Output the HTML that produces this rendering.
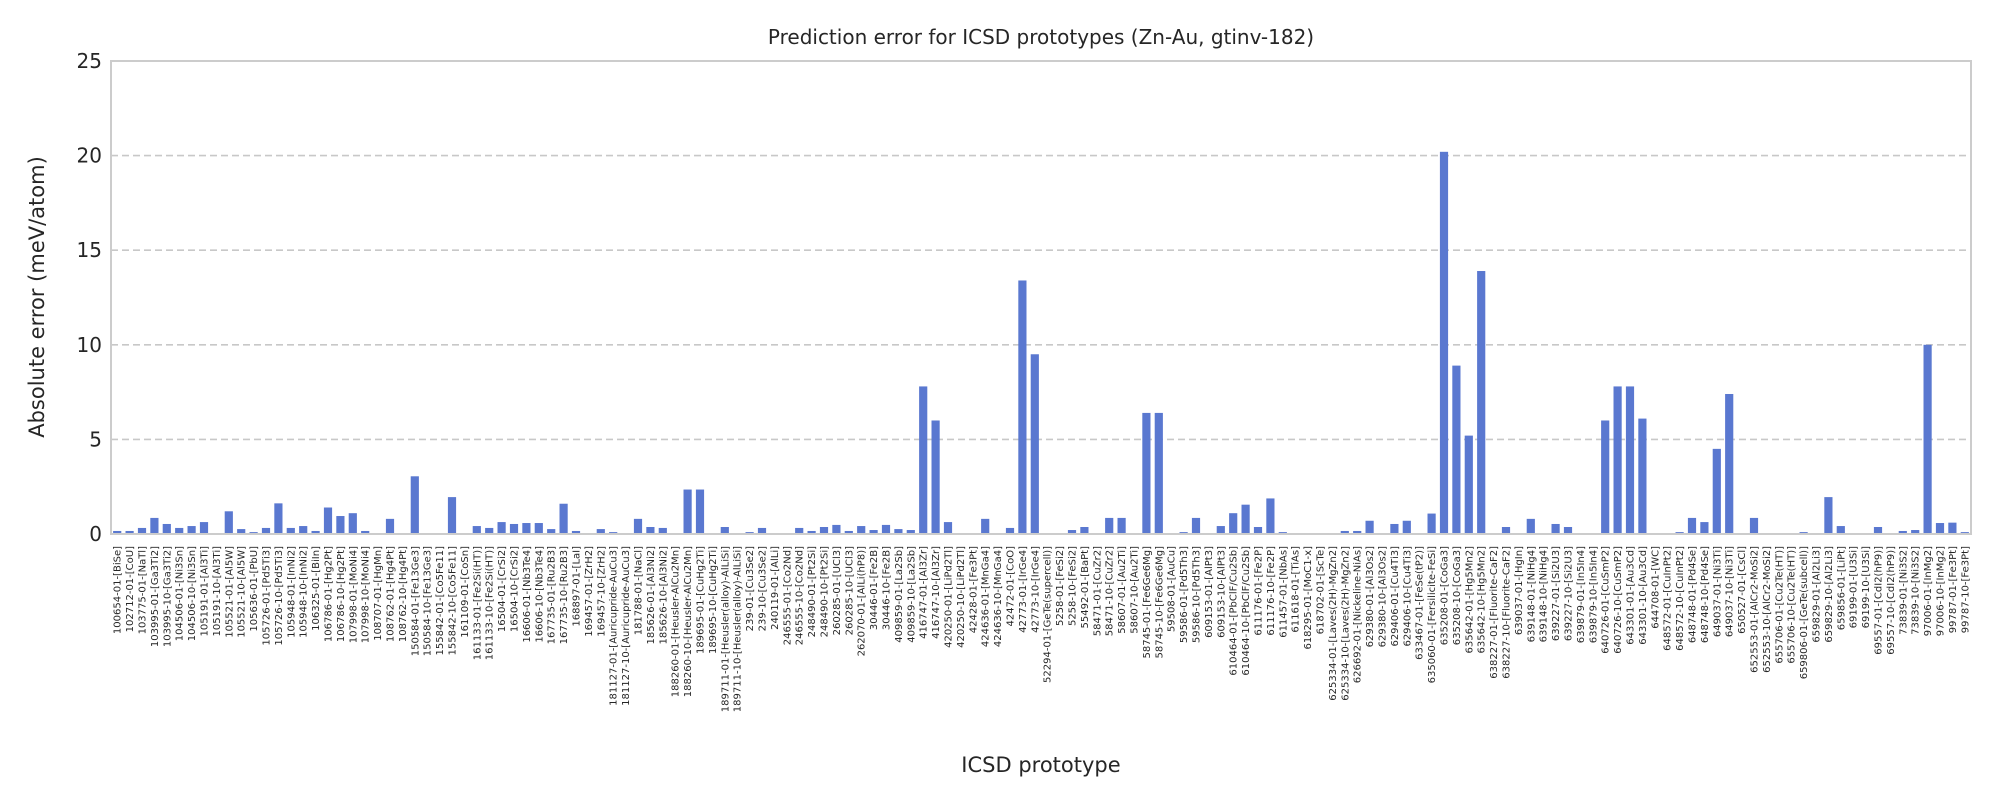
<!DOCTYPE html>
<html><head><meta charset="utf-8"><style>
html,body{margin:0;padding:0;background:#fff;width:2000px;height:800px;overflow:hidden}
svg{display:block;font-family:"DejaVu Sans","Liberation Sans",sans-serif}
</style></head><body>
<svg id="chart" width="2000" height="800" xmlns="http://www.w3.org/2000/svg">
<rect x="0" y="0" width="2000" height="800" fill="#fff"/>
<text x="1041" y="44" font-size="20" text-anchor="middle" fill="#262626">Prediction error for ICSD prototypes (Zn-Au, gtinv-182)</text>
<text x="1041" y="772" font-size="21" text-anchor="middle" fill="#262626">ICSD prototype</text>
<text transform="translate(44,297) rotate(-90)" font-size="21" text-anchor="middle" fill="#262626">Absolute error (meV/atom)</text>
<g id="grid"></g><g id="bars"></g><g id="yticks"></g><g id="xticks"></g>
<rect x="111" y="61" width="1860" height="473" fill="none" stroke="#cccccc" stroke-width="2"/>
</svg>
<script>
const categories = ["100654-01-[BiSe]","102712-01-[CoU]","103775-01-[NaTl]","103995-01-[Ga3Ti2]","103995-10-[Ga3Ti2]","104506-01-[Ni3Sn]","104506-10-[Ni3Sn]","105191-01-[Al3Ti]","105191-10-[Al3Ti]","105521-01-[Al5W]","105521-10-[Al5W]","105636-01-[PbU]","105726-01-[Pd5Ti3]","105726-10-[Pd5Ti3]","105948-01-[InNi2]","105948-10-[InNi2]","106325-01-[BiIn]","106786-01-[Hg2Pt]","106786-10-[Hg2Pt]","107998-01-[MoNi4]","107998-10-[MoNi4]","108707-01-[HgMn]","108762-01-[Hg4Pt]","108762-10-[Hg4Pt]","150584-01-[Fe13Ge3]","150584-10-[Fe13Ge3]","155842-01-[Co5Fe11]","155842-10-[Co5Fe11]","161109-01-[CoSn]","161133-01-[Fe2Si(HT)]","161133-10-[Fe2Si(HT)]","16504-01-[CrSi2]","16504-10-[CrSi2]","16606-01-[Nb3Te4]","16606-10-[Nb3Te4]","167735-01-[Ru2B3]","167735-10-[Ru2B3]","168897-01-[LaI]","169457-01-[ZrH2]","169457-10-[ZrH2]","181127-01-[Auricupride-AuCu3]","181127-10-[Auricupride-AuCu3]","181788-01-[NaCl]","185626-01-[Al3Ni2]","185626-10-[Al3Ni2]","188260-01-[Heusler-AlCu2Mn]","188260-10-[Heusler-AlCu2Mn]","189695-01-[CuHg2Ti]","189695-10-[CuHg2Ti]","189711-01-[Heusler(alloy)-AlLiSi]","189711-10-[Heusler(alloy)-AlLiSi]","239-01-[Cu3Se2]","239-10-[Cu3Se2]","240119-01-[AlLi]","246555-01-[Co2Nd]","246555-10-[Co2Nd]","248490-01-[Pt2Si]","248490-10-[Pt2Si]","260285-01-[UCl3]","260285-10-[UCl3]","262070-01-[AlLi(hP8)]","30446-01-[Fe2B]","30446-10-[Fe2B]","409859-01-[La2Sb]","409859-10-[La2Sb]","416747-01-[Al3Zr]","416747-10-[Al3Zr]","420250-01-[LiPd2Tl]","420250-10-[LiPd2Tl]","42428-01-[Fe3Pt]","424636-01-[MnGa4]","424636-10-[MnGa4]","42472-01-[CoO]","42773-01-[IrGe4]","42773-10-[IrGe4]","52294-01-[GeTe(supercell)]","5258-01-[FeSi2]","5258-10-[FeSi2]","55492-01-[BaPt]","58471-01-[CuZr2]","58471-10-[CuZr2]","58607-01-[Au2Ti]","58607-10-[Au2Ti]","58745-01-[Fe6Ge6Mg]","58745-10-[Fe6Ge6Mg]","59508-01-[AuCu]","59586-01-[Pd5Th3]","59586-10-[Pd5Th3]","609153-01-[AlPt3]","609153-10-[AlPt3]","610464-01-[PbClF/Cu2Sb]","610464-10-[PbClF/Cu2Sb]","611176-01-[Fe2P]","611176-10-[Fe2P]","611457-01-[NbAs]","611618-01-[TiAs]","618295-01-[MoC1-x]","618702-01-[ScTe]","625334-01-[Laves(2H)-MgZn2]","625334-10-[Laves(2H)-MgZn2]","626692-01-[Nickeline-NiAs]","629380-01-[Al3Os2]","629380-10-[Al3Os2]","629406-01-[Cu4Ti3]","629406-10-[Cu4Ti3]","633467-01-[FeSe(tP2)]","635060-01-[Fersilicite-FeSi]","635208-01-[CoGa3]","635208-10-[CoGa3]","635642-01-[Hg5Mn2]","635642-10-[Hg5Mn2]","638227-01-[Fluorite-CaF2]","638227-10-[Fluorite-CaF2]","639037-01-[HgIn]","639148-01-[NiHg4]","639148-10-[NiHg4]","639227-01-[Si2U3]","639227-10-[Si2U3]","639879-01-[In5In4]","639879-10-[In5In4]","640726-01-[CuSmP2]","640726-10-[CuSmP2]","643301-01-[Au3Cd]","643301-10-[Au3Cd]","644708-01-[WC]","648572-01-[CuInPt2]","648572-10-[CuInPt2]","648748-01-[Pd4Se]","648748-10-[Pd4Se]","649037-01-[Ni3Ti]","649037-10-[Ni3Ti]","650527-01-[CsCl]","652553-01-[AlCr2-MoSi2]","652553-10-[AlCr2-MoSi2]","655706-01-[Cu2Te(HT)]","655706-10-[Cu2Te(HT)]","659806-01-[GeTe(subcell)]","659829-01-[Al2Li3]","659829-10-[Al2Li3]","659856-01-[LiPt]","69199-01-[U3Si]","69199-10-[U3Si]","69557-01-[CdI2(hP9)]","69557-10-[CdI2(hP9)]","73839-01-[Ni3S2]","73839-10-[Ni3S2]","97006-01-[InMg2]","97006-10-[InMg2]","99787-01-[Fe3Pt]","99787-10-[Fe3Pt]"];
const errors = [0.16,0.16,0.32,0.85,0.53,0.32,0.42,0.63,0,1.2,0.26,0.1,0.32,1.62,0.32,0.42,0.16,1.4,0.95,1.1,0.16,0,0.8,0.05,3.05,
0,0.05,1.95,0.05,0.42,0.32,0.63,0.53,0.58,0.58,0.26,1.6,0.16,0,0.26,0.1,0.03,0.8,0.37,0.32,0,2.35,2.35,0,0.37,
0,0.1,0.32,0,0.05,0.32,0.16,0.37,0.48,0.16,0.42,0.21,0.48,0.26,0.21,7.8,6.0,0.63,0,0,0.8,0.05,0.32,13.4,9.5,
0,0,0.21,0.37,0,0.85,0.85,0,6.4,6.4,0,0.1,0.85,0,0.42,1.1,1.55,0.37,1.88,0.1,0,0,0,0,0.16,
0.16,0.7,0,0.53,0.7,0,1.08,20.2,8.9,5.2,13.9,0.05,0.37,0,0.8,0.05,0.53,0.37,0,0.05,6.0,7.8,7.8,6.1,0,
0,0.1,0.85,0.63,4.5,7.4,0,0.85,0,0,0,0.1,0,1.95,0.42,0,0,0.37,0.05,0.16,0.21,10.0,0.58,0.6,0.1];
const yTicks = [0,5,10,15,20,25];
const X0=111,X1=1971,Y0=534,Y1=61,YMAX=25;
const NS='http://www.w3.org/2000/svg';
const step=(X1-X0)/categories.length;
function xPos(i){return X0+step*(i+0.5);}
function yPos(v){return Y0-(v/YMAX)*(Y0-Y1);}
function mk(tag,attrs,parent){const e=document.createElementNS(NS,tag);for(const k in attrs)e.setAttribute(k,attrs[k]);parent.appendChild(e);return e;}
const grid=document.getElementById('grid'),bars=document.getElementById('bars'),yt=document.getElementById('yticks'),xt=document.getElementById('xticks');
yTicks.forEach(t=>{
  const y=yPos(t);
  if(t>0&&t<YMAX){const l=mk('line',{x1:X0,x2:X1,y1:y,y2:y,stroke:'#c8c8c8','stroke-width':1.6,'stroke-dasharray':'7,4'},grid);
  
  }
  const tx=mk('text',{x:102,y:y+7,'font-size':20,'text-anchor':'end',fill:'#262626'},yt);
  tx.textContent=t;
  
  
});
const bw=step*0.66;
errors.forEach((v,i)=>{
  if(v>0){const r=mk('rect',{x:xPos(i)-bw/2,y:yPos(v),width:bw,height:Y0-yPos(v),fill:'#5a78d0'},bars);
  
  }
});
categories.forEach((c,i)=>{
  const x=xPos(i)+3.5;
  const t=mk('text',{transform:'translate('+x+',546) rotate(-90)','font-size':10,'text-anchor':'end',fill:'#262626'},xt);
  t.textContent=c;
  
  
});
</script>
</body></html>
